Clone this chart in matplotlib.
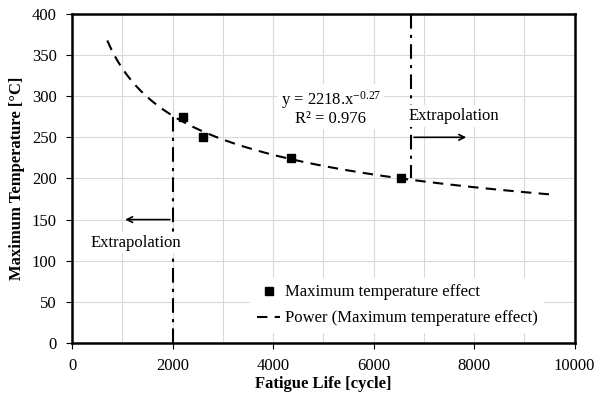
import numpy as np
import matplotlib.pyplot as plt

# measured points
life = [2200, 2600, 4350, 6550]
temp = [275, 250, 225, 200]

# trendline range and extrapolation limits
fit_x_range = [700, 9500]
limit_low = 2000
limit_high = 6750

plt.rcParams['font.family'] = ['Liberation Serif', 'DejaVu Serif']
plt.rcParams['mathtext.fontset'] = 'custom'
plt.rcParams['mathtext.rm'] = 'Liberation Serif'
plt.rcParams['mathtext.it'] = 'Liberation Serif:italic'

fig, ax = plt.subplots(figsize=(5.96, 3.97), dpi=100)
fig.subplots_adjust(left=0.121, right=0.964, top=0.965, bottom=0.136)

# power fit in log space
b, a = np.polyfit(np.log(life), np.log(temp), 1)
xf = np.linspace(fit_x_range[0], fit_x_range[1], 200)
yf = np.exp(a) * xf ** b

ax.plot(xf, yf, '--', color='black', lw=1.5, dashes=(5, 3.5),
        label='Power (Maximum temperature effect)', zorder=3)
ax.plot(life, temp, 's', color='black', ms=6, label='Maximum temperature effect', zorder=4)

# extrapolation limits
y_low = np.exp(a) * limit_low ** b
ax.plot([limit_low, limit_low], [0, y_low], color='black', lw=1.5,
        dashes=(7, 3, 1.5, 3), zorder=2)
ax.plot([limit_high, limit_high], [400, 200], color='black', lw=1.5,
        dashes=(7, 3, 1.5, 3), zorder=2)

ax.annotate('', xy=(1000, 150), xytext=(limit_low, 150),
            arrowprops=dict(arrowstyle='->', color='black', lw=1.2))
ax.annotate('', xy=(7900, 250), xytext=(limit_high, 250),
            arrowprops=dict(arrowstyle='->', color='black', lw=1.2))

ax.text(1270, 122, 'Extrapolation', fontsize=12, ha='center', va='center',
        bbox=dict(facecolor='white', edgecolor='none', pad=2), zorder=5)
ax.text(7600, 276, 'Extrapolation', fontsize=12, ha='center', va='center',
        bbox=dict(facecolor='white', edgecolor='none', pad=2), zorder=5)
ax.text(5150, 286, 'y = 2218.x$^{\\mathrm{-0.27}}$\nR² = 0.976', fontsize=12,
        ha='center', va='center', linespacing=1.0,
        bbox=dict(facecolor='white', edgecolor='none', pad=2), zorder=5)

ax.set_xlim(0, 10000)
ax.set_ylim(0, 400)
ax.set_xticks(np.arange(0, 10001, 2000))
ax.set_xticks(np.arange(0, 10001, 1000), minor=True)
ax.set_yticks(np.arange(0, 401, 50))
ax.grid(True, which='both', color='#d9d9d9', lw=0.8)
ax.set_axisbelow(True)
ax.tick_params(which='both', labelsize=12, direction='out', length=4)
ax.tick_params(which='minor', length=0)
ax.tick_params(axis='x', pad=7)
ax.tick_params(axis='y', pad=7)

for s in ax.spines.values():
    s.set_linewidth(1.8)

ax.set_xlabel('Fatigue Life [cycle]', fontsize=12, fontweight='bold', labelpad=1)
ax.set_ylabel('Maximum Temperature [°C]', fontsize=12, fontweight='bold', labelpad=5)

handles, labels = ax.get_legend_handles_labels()
leg = ax.legend(handles[::-1], labels[::-1], loc='lower left',
                bbox_to_anchor=(0.355, 0.03), frameon=True, fontsize=12,
                handlelength=1.4, handletextpad=0.25, labelspacing=0.6,
                borderaxespad=0, borderpad=0.4)
leg.get_frame().set_edgecolor('none')
leg.get_frame().set_alpha(1)

fig.savefig('out.png', dpi=100)
